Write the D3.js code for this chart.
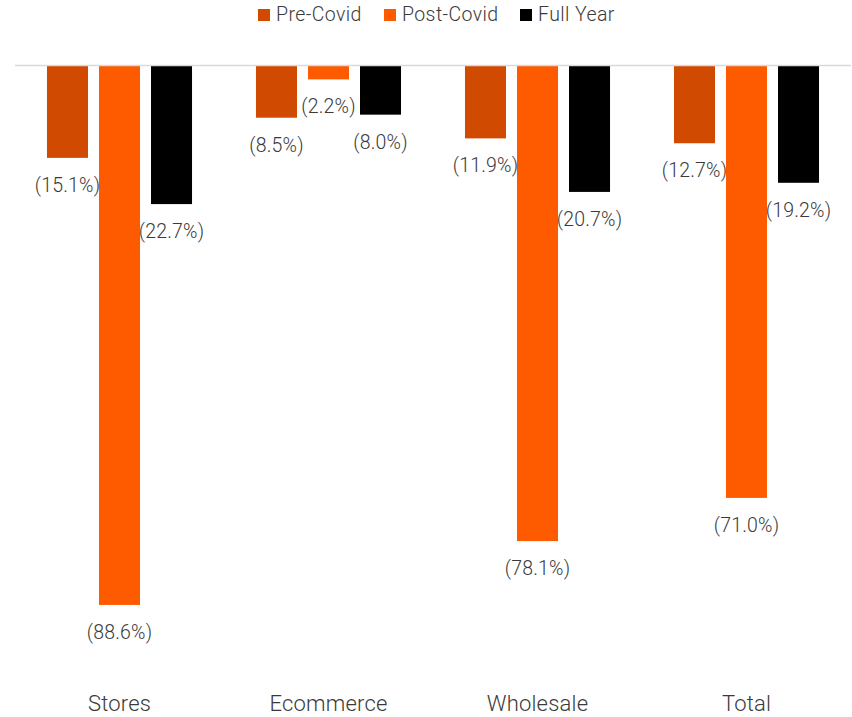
<!DOCTYPE html>
<html>
<head>
<meta charset="utf-8">
<script src="https://cdn.jsdelivr.net/npm/d3@7"></script>
<style>
  html, body { margin: 0; padding: 0; background: #fff; }
  svg { display: block; font-family: Roboto, "Noto Sans", sans-serif; font-weight: 300; }
</style>
</head>
<body>
<svg id="chart" width="852" height="717"></svg>
<script>
// Year-over-year change by channel (%)
const categories = ["Stores", "Ecommerce", "Wholesale", "Total"];
const seriesNames = ["Pre-Covid", "Post-Covid", "Full Year"];
const preCovid  = [-15.1, -8.5, -11.9, -12.7];
const postCovid = [-88.6, -2.2, -78.1, -71.0];
const fullYear  = [-22.7, -8.0, -20.7, -19.2];
const colors = ["#D04A02", "#FE5A00", "#000000"];

const seriesValues = [preCovid, postCovid, fullYear];
const rows = categories.map((c, i) => ({
  category: c,
  values: seriesNames.map((s, j) => ({ series: s, value: seriesValues[j][i] }))
}));

const svg = d3.select("#chart");

const x0 = d3.scaleBand()
  .domain(categories)
  .range([15, 851])
  .paddingInner(0.306)
  .paddingOuter(0.153);

const x1 = d3.scaleBand()
  .domain(seriesNames)
  .range([0, x0.bandwidth()])
  .paddingInner(0.2115)
  .paddingOuter(0);

const y = d3.scaleLinear()
  .domain([0, -100])
  .range([66, 674.3]);

const color = d3.scaleOrdinal().domain(seriesNames).range(colors);

const fmt = v => "(" + Math.abs(v).toFixed(1) + "%)";

const groups = svg.append("g")
  .selectAll("g")
  .data(rows)
  .join("g")
  .attr("transform", d => `translate(${x0(d.category)},0)`);

groups.selectAll("rect")
  .data(d => d.values)
  .join("rect")
  .attr("x", d => x1(d.series))
  .attr("y", d => y(0))
  .attr("width", x1.bandwidth())
  .attr("height", d => y(d.value) - y(0))
  .attr("fill", d => color(d.series));

groups.selectAll("text")
  .data(d => d.values)
  .join("text")
  .attr("x", d => x1(d.series) + x1.bandwidth() / 2)
  .attr("y", d => y(d.value) + 34)
  .attr("text-anchor", "middle")
  .attr("font-size", 19.5)
  .attr("letter-spacing", 0.2)
  .attr("fill", "#3a3a3a")
  .text(d => fmt(d.value));

// zero line
svg.append("line")
  .attr("x1", 15).attr("x2", 851)
  .attr("y1", y(0) - 0.5).attr("y2", y(0) - 0.5)
  .attr("stroke", "#d9d9d9")
  .attr("stroke-width", 1.5);

// category axis
const axis = svg.append("g")
  .attr("transform", "translate(0,695)")
  .call(d3.axisBottom(x0).tickSize(0).tickPadding(0));
axis.select(".domain").remove();
axis.selectAll("text")
  .attr("font-family", "Roboto, sans-serif")
  .attr("font-weight", 300)
  .attr("font-size", 22)
  .attr("letter-spacing", 0.2)
  .attr("fill", "#3a3a3a")
  .attr("dy", "0.71em");

// legend
const legendItems = [
  { name: seriesNames[0], x: 258 },
  { name: seriesNames[1], x: 384 },
  { name: seriesNames[2], x: 520 }
];
const legend = svg.append("g")
  .selectAll("g")
  .data(legendItems)
  .join("g")
  .attr("transform", d => `translate(${d.x},0)`);
legend.append("rect")
  .attr("x", 0).attr("y", 9)
  .attr("width", 12).attr("height", 12)
  .attr("fill", d => color(d.name));
legend.append("text")
  .attr("x", 18).attr("y", 21)
  .attr("font-size", 19.5)
  .attr("letter-spacing", 0.4)
  .attr("fill", "#3a3a3a")
  .text(d => d.name);
</script>
</body>
</html>
